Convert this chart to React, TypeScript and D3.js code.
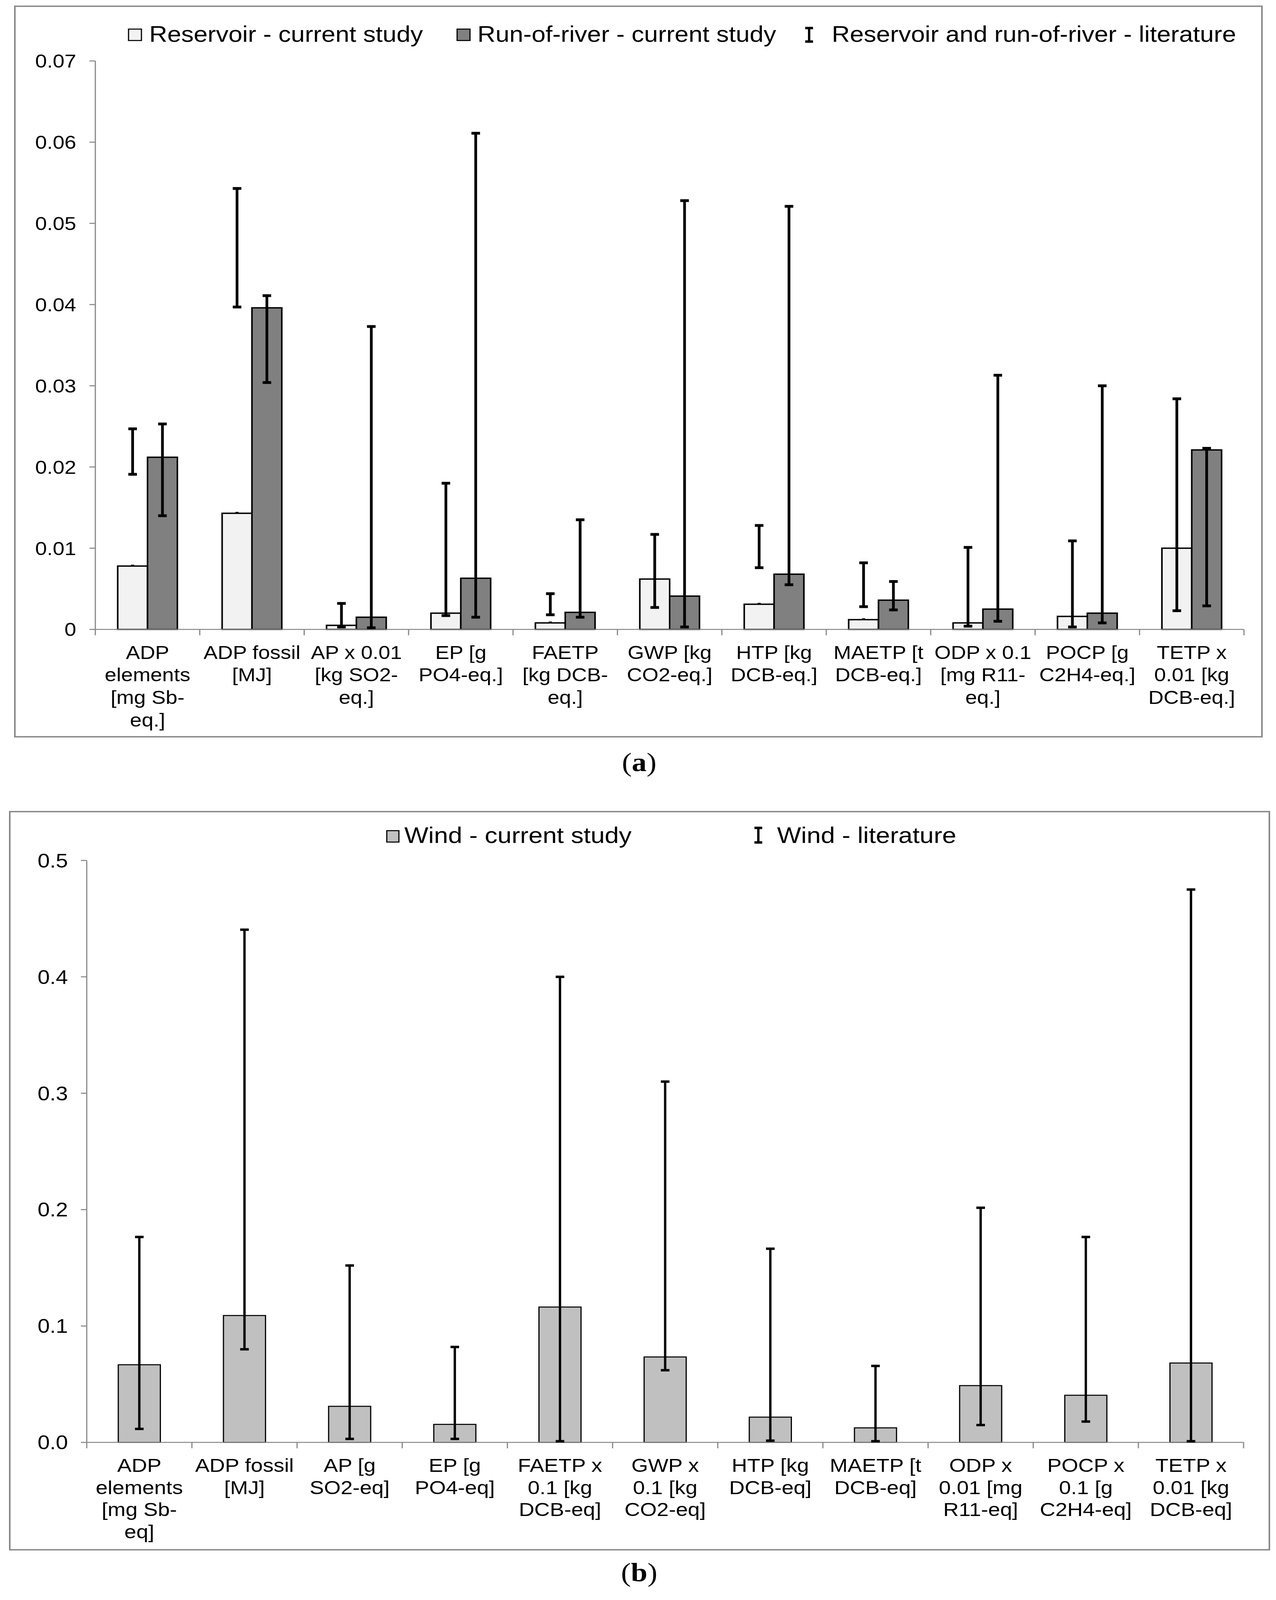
import React, { useEffect, useState } from 'react';
import * as d3 from 'd3';

// ---- panel (a) data ----
const catsA: string[][] = [
  ['ADP', 'elements', '[mg Sb-', 'eq.]'],
  ['ADP fossil', '[MJ]'],
  ['AP x 0.01', '[kg SO2-', 'eq.]'],
  ['EP [g', 'PO4-eq.]'],
  ['FAETP', '[kg DCB-', 'eq.]'],
  ['GWP [kg', 'CO2-eq.]'],
  ['HTP [kg', 'DCB-eq.]'],
  ['MAETP [t', 'DCB-eq.]'],
  ['ODP x 0.1', '[mg R11-', 'eq.]'],
  ['POCP [g', 'C2H4-eq.]'],
  ['TETP x', '0.01 [kg', 'DCB-eq.]'],
];
const reservoirVal = [0.0078, 0.0143, 0.0005, 0.002, 0.0008, 0.0062, 0.0031, 0.0012, 0.0008, 0.0016, 0.01];
const reservoirLo = [0.0191, 0.0397, 0.0003, 0.0017, 0.0018, 0.0027, 0.0076, 0.0028, 0.0004, 0.0003, 0.0023];
const reservoirHi = [0.0247, 0.0543, 0.0032, 0.018, 0.0044, 0.0117, 0.0128, 0.0082, 0.0101, 0.0109, 0.0284];
const riverVal = [0.0212, 0.0396, 0.0015, 0.0063, 0.0021, 0.0041, 0.0068, 0.0036, 0.0025, 0.002, 0.0221];
const riverLo = [0.014, 0.0304, 0.0002, 0.0015, 0.0015, 0.0003, 0.0055, 0.0024, 0.001, 0.0008, 0.0029];
const riverHi = [0.0253, 0.0411, 0.0373, 0.0611, 0.0135, 0.0528, 0.0521, 0.0059, 0.0313, 0.03, 0.0223];
const ticksA = [0, 0.01, 0.02, 0.03, 0.04, 0.05, 0.06, 0.07];

// ---- panel (b) data ----
const catsB: string[][] = [
  ['ADP', 'elements', '[mg Sb-', 'eq]'],
  ['ADP fossil', '[MJ]'],
  ['AP [g', 'SO2-eq]'],
  ['EP [g', 'PO4-eq]'],
  ['FAETP x', '0.1 [kg', 'DCB-eq]'],
  ['GWP x', '0.1 [kg', 'CO2-eq]'],
  ['HTP [kg', 'DCB-eq]'],
  ['MAETP [t', 'DCB-eq]'],
  ['ODP x', '0.01 [mg', 'R11-eq]'],
  ['POCP x', '0.1 [g', 'C2H4-eq]'],
  ['TETP x', '0.01 [kg', 'DCB-eq]'],
];
const windVal = [0.0667, 0.109, 0.031, 0.0155, 0.1163, 0.0734, 0.0217, 0.0125, 0.0488, 0.0405, 0.0682];
const windLo = [0.0116, 0.08, 0.003, 0.003, 0.001, 0.062, 0.0015, 0.001, 0.0149, 0.0179, 0.001];
const windHi = [0.1765, 0.4405, 0.152, 0.082, 0.4, 0.31, 0.1664, 0.0657, 0.2016, 0.1765, 0.475];
const ticksB = [0, 0.1, 0.2, 0.3, 0.4, 0.5];

const FONT = '"Liberation Sans", Arial, sans-serif';
const AXIS = '#878787';
const W = 3266;
const H = 4619;

interface Series {
  fill: string;
  values: number[];
  lo: number[];
  hi: number[];
}

interface PanelProps {
  cats: string[][];
  series: Series[];
  ticks: number[];
  digits: number;
  x0: number;
  x1: number;
  yTop: number;
  yBase: number;
  labelRight: number;
  tickFont: number;
  catFont: number;
  lineH: number;
  barStroke: number;
  errStroke: number;
}

function Panel(p: PanelProps) {
  const y = d3.scaleLinear().domain([0, p.ticks[p.ticks.length - 1]]).range([p.yBase, p.yTop]);
  const x = d3.scaleBand<number>()
    .domain(p.cats.map((_, i) => i))
    .range([p.x0, p.x1])
    .paddingInner(0)
    .paddingOuter(0);
  const bw = x.bandwidth() / (p.series.length + 1.5); // excel gap width 150%
  const edges = [...p.cats.map((_, i) => x(i) as number), p.x1];
  const capW = 22;

  return (
    <g>
      {/* y axis */}
      <line x1={p.x0} x2={p.x0} y1={y(p.ticks[p.ticks.length - 1])} y2={p.yBase} stroke={AXIS} strokeWidth={3} />
      {p.ticks.map(t => (
        <g key={t}>
          <line x1={p.x0 - 15} x2={p.x0} y1={y(t)} y2={y(t)} stroke={AXIS} strokeWidth={3} />
          <text x={p.labelRight} y={y(t)} dy="0.36em" textAnchor="end" fontSize={p.tickFont} fontFamily={FONT} fill="#000">
            {t === 0 && p.digits === 2 ? '0' : t.toFixed(p.digits)}
          </text>
        </g>
      ))}

      {/* bars */}
      {p.cats.map((_, i) => {
        const cx = (x(i) as number) + x.bandwidth() / 2;
        const start = cx - (p.series.length * bw) / 2;
        return p.series.map((s, k) => (
          <rect key={`${i}-${k}`} x={start + k * bw} y={y(s.values[i])} width={bw}
            height={p.yBase - y(s.values[i])} fill={s.fill} stroke="#000" strokeWidth={p.barStroke} />
        ));
      })}

      {/* x axis */}
      <line x1={p.x0} x2={p.x1} y1={p.yBase} y2={p.yBase} stroke={AXIS} strokeWidth={3} />
      {edges.map((e, i) => (
        <line key={i} x1={e} x2={e} y1={p.yBase} y2={p.yBase + 17} stroke={AXIS} strokeWidth={3} />
      ))}

      {/* error bars (literature ranges) */}
      {p.cats.map((_, i) => {
        const cx = (x(i) as number) + x.bandwidth() / 2;
        const start = cx - (p.series.length * bw) / 2;
        return p.series.map((s, k) => {
          const ex = start + k * bw + bw / 2;
          const yl = y(s.lo[i]);
          const yh = y(s.hi[i]);
          return (
            <g key={`e${i}-${k}`}>
              <line x1={ex} x2={ex} y1={yl} y2={yh} stroke="#000" strokeWidth={p.errStroke} />
              <line x1={ex - capW / 2} x2={ex + capW / 2} y1={yl} y2={yl} stroke="#000" strokeWidth={p.errStroke + 1} />
              <line x1={ex - capW / 2} x2={ex + capW / 2} y1={yh} y2={yh} stroke="#000" strokeWidth={p.errStroke + 1} />
              {s.lo[i] > s.values[i] && (
                <rect x={ex - 4} y={y(s.values[i]) - 4} width={8} height={5} fill="#000" />
              )}
            </g>
          );
        });
      })}

      {/* category labels */}
      {p.cats.map((lines, i) => {
        const cx = (x(i) as number) + x.bandwidth() / 2;
        return (
          <text key={`c${i}`} textAnchor="middle" fontSize={p.catFont} fontFamily={FONT} fill="#000">
            {lines.map((l, j) => (
              <tspan key={j} x={cx} y={p.yBase + 85 + j * p.lineH}>{l}</tspan>
            ))}
          </text>
        );
      })}
    </g>
  );
}

function IBar({ x, y1, y2 }: { x: number; y1: number; y2: number }) {
  return (
    <g>
      <line x1={x} x2={x} y1={y1} y2={y2} stroke="#000" strokeWidth={6} />
      <line x1={x - 10} x2={x + 10} y1={y1 + 3} y2={y1 + 3} stroke="#000" strokeWidth={7} />
      <line x1={x - 10} x2={x + 10} y1={y2 - 3} y2={y2 - 3} stroke="#000" strokeWidth={7} />
    </g>
  );
}

export default function App() {
  // the window may be shorter than the figure, so fit the figure to it
  const [size, setSize] = useState({ w: W, h: H });
  useEffect(() => {
    document.body.style.margin = '0';
    document.body.style.overflow = 'hidden';
    setSize({ w: window.innerWidth, h: window.innerHeight });
  }, []);

  const seriesA: Series[] = [
    { fill: '#f2f2f2', values: reservoirVal, lo: reservoirLo, hi: reservoirHi },
    { fill: '#808080', values: riverVal, lo: riverLo, hi: riverHi },
  ];
  const seriesB: Series[] = [{ fill: '#c0c0c0', values: windVal, lo: windLo, hi: windHi }];

  return (
    <svg width={size.w} height={size.h} viewBox={`0 0 ${W} ${H}`} preserveAspectRatio="none"
      style={{ display: 'block', background: '#fff' }}>
      <rect width={W} height={H} fill="#fff" />

      {/* panel (a) */}
      <rect x={38} y={18} width={3192} height={2109} fill="#fff" stroke="#888" strokeWidth={4} />
      <rect x={329} y={84} width={33} height={33} fill="#f2f2f2" stroke="#000" strokeWidth={3} />
      <text x={382} y={121} fontSize={64} fontFamily={FONT}>Reservoir - current study</text>
      <rect x={1170} y={84} width={33} height={33} fill="#808080" stroke="#000" strokeWidth={3} />
      <text x={1222} y={121} fontSize={64} fontFamily={FONT}>Run-of-river - current study</text>
      <IBar x={2071} y1={78} y2={123} />
      <text x={2129} y={121} fontSize={64} fontFamily={FONT}>Reservoir and run-of-river - literature</text>
      <Panel cats={catsA} series={seriesA} ticks={ticksA} digits={2}
        x0={244} x1={3184} yTop={176} yBase={1817} labelRight={195}
        tickFont={54} catFont={54} lineH={65} barStroke={4} errStroke={7} />
      <text x={1636} y={2226} textAnchor="middle" fontSize={76} fontFamily='"Liberation Serif", serif'>
        (<tspan fontWeight="bold">a</tspan>)
      </text>

      {/* panel (b) */}
      <rect x={25} y={2343} width={3224} height={2131} fill="#fff" stroke="#888" strokeWidth={4} />
      <rect x={990} y={2398} width={31} height={33} fill="#c0c0c0" stroke="#000" strokeWidth={3} />
      <text x={1035} y={2433} fontSize={65} fontFamily={FONT}>Wind - current study</text>
      <IBar x={1941} y1={2387} y2={2435} />
      <text x={1989} y={2433} fontSize={65} fontFamily={FONT}>Wind - literature</text>
      <Panel cats={catsB} series={seriesB} ticks={ticksB} digits={1}
        x0={222} x1={3183} yTop={2484} yBase={4164} labelRight={174}
        tickFont={56} catFont={55} lineH={64} barStroke={3} errStroke={6} />
      <text x={1636} y={4565} textAnchor="middle" fontSize={76} fontFamily='"Liberation Serif", serif'>
        (<tspan fontWeight="bold">b</tspan>)
      </text>
    </svg>
  );
}
